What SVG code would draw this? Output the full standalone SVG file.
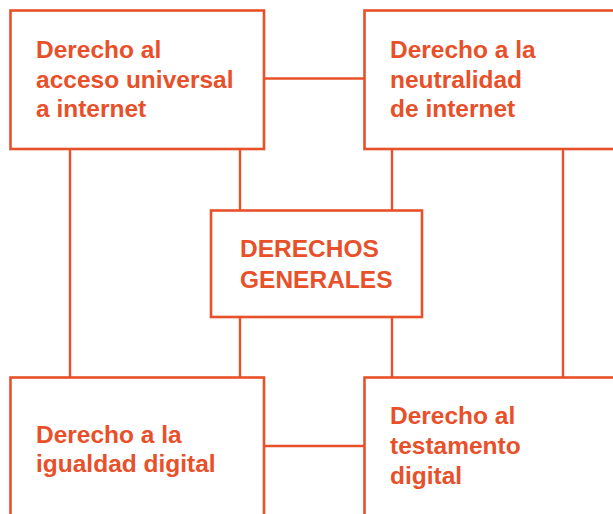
<svg xmlns="http://www.w3.org/2000/svg" width="613" height="514" viewBox="0 0 613 514">
<style>
.box{fill:#fff;stroke:#E8502A;stroke-width:2.6}
.ln{stroke:#E8502A;stroke-width:2.4;fill:none}
.t{font-family:"Liberation Sans",Arial,sans-serif;font-weight:bold;font-size:24.5px;fill:#E8502A}
</style>
<rect width="613" height="514" fill="#fff"/>
<g id="connectors">
<line class="ln" x1="264" y1="78.5" x2="364" y2="78.5"/>
<line class="ln" x1="264" y1="446" x2="364" y2="446"/>
<line class="ln" x1="70" y1="149" x2="70" y2="377"/>
<line class="ln" x1="563" y1="149" x2="563" y2="377"/>
<line class="ln" x1="240" y1="149" x2="240" y2="210"/>
<line class="ln" x1="240" y1="317" x2="240" y2="377"/>
<line class="ln" x1="392" y1="149" x2="392" y2="210"/>
<line class="ln" x1="392" y1="317" x2="392" y2="377"/>
</g>
<g id="acceso">
<rect class="box" x="10.5" y="10.5" width="253.5" height="138.5"/>
<text class="t" x="36" y="58">Derecho al</text>
<text class="t" x="36" y="88">acceso universal</text>
<text class="t" x="36" y="117">a internet</text>
</g>
<g id="neutralidad">
<rect class="box" x="364.5" y="10.5" width="260" height="138.5"/>
<text class="t" x="390" y="58">Derecho a la</text>
<text class="t" x="390" y="88">neutralidad</text>
<text class="t" x="390" y="117">de internet</text>
</g>
<g id="generales">
<rect class="box" x="211" y="210.5" width="211" height="106.5"/>
<text class="t" x="240" y="257">DERECHOS</text>
<text class="t" x="240" y="287.5">GENERALES</text>
</g>
<g id="igualdad">
<rect class="box" x="10.5" y="377.5" width="253.5" height="150"/>
<text class="t" x="36" y="443">Derecho a la</text>
<text class="t" x="36" y="472">igualdad digital</text>
</g>
<g id="testamento">
<rect class="box" x="364.5" y="377.5" width="260" height="150"/>
<text class="t" x="390" y="424">Derecho al</text>
<text class="t" x="390" y="454">testamento</text>
<text class="t" x="390" y="484">digital</text>
</g>
</svg>
